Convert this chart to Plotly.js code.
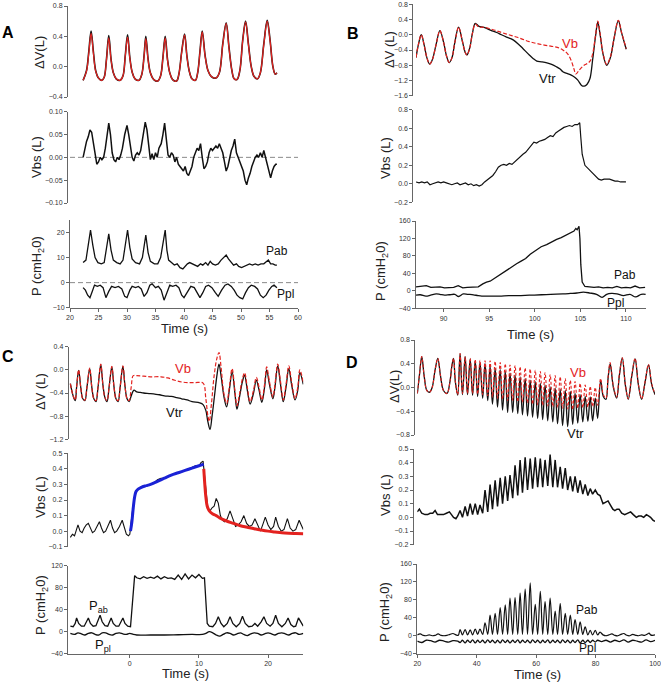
<!DOCTYPE html>
<html><head><meta charset="utf-8">
<script src="https://cdn.plot.ly/plotly-3.0.1.min.js"></script>
<style>html,body{margin:0;padding:0;background:#fff}#chart{width:661px;height:684px}</style>
</head><body><div id="chart"></div>
<script>
// ---------------- Panel A ----------------
const A_t = [22.3,22.9,23.3,23.7,24.1,24.5,25.0,25.6,26.0,26.4,26.8,27.2,27.6,28.1,28.8,29.3,29.7,30.1,30.5,30.9,31.4,32.1,32.6,33.0,33.3,33.7,34.1,34.7,35.4,35.9,36.3,36.7,37.1,37.5,38.0,38.7,39.1,39.6,40.1,40.5,40.9,41.4,42.0,42.4,42.8,43.2,43.7,44.2,44.8,45.6,46.2,46.8,47.4,47.9,48.4,48.8,49.3,49.8,50.3,50.8,51.3,51.8,52.3,52.9,53.4,54.0,54.6,55.1,55.6,56.0,56.3];
const A_vtr = [-0.18,-0.05,0.2,0.47,0.2,-0.05,-0.15,-0.18,-0.14,0.1,0.41,0.1,-0.08,-0.16,-0.18,-0.12,0.15,0.42,0.12,-0.07,-0.16,-0.18,-0.1,0.15,0.40,0.1,-0.08,-0.17,-0.19,-0.12,0.12,0.40,0.1,-0.08,-0.17,-0.19,-0.1,0.2,0.43,0.15,-0.05,-0.16,-0.18,-0.08,0.2,0.47,0.15,-0.05,-0.13,-0.15,-0.08,0.3,0.58,0.25,-0.05,-0.16,-0.17,-0.05,0.35,0.6,0.3,0.0,-0.13,-0.16,-0.08,0.3,0.61,0.35,0.0,-0.1,-0.08];
const A_vb = [-0.18,-0.06,0.18,0.44,0.18,-0.06,-0.15,-0.18,-0.14,0.09,0.38,0.09,-0.08,-0.16,-0.18,-0.12,0.14,0.39,0.11,-0.07,-0.16,-0.18,-0.1,0.14,0.37,0.09,-0.08,-0.17,-0.19,-0.12,0.11,0.38,0.09,-0.08,-0.17,-0.19,-0.1,0.19,0.42,0.14,-0.05,-0.16,-0.18,-0.08,0.19,0.46,0.14,-0.05,-0.13,-0.15,-0.08,0.29,0.57,0.24,-0.05,-0.16,-0.17,-0.05,0.34,0.59,0.29,0.0,-0.13,-0.16,-0.08,0.29,0.6,0.34,0.0,-0.1,-0.08];
const A_vbs_t = [22.3,22.6,22.9,23.2,23.5,23.8,24.1,24.4,24.7,25.0,25.3,25.6,25.9,26.2,26.5,26.8,27.1,27.4,27.7,28.0,28.3,28.6,28.9,29.2,29.6,30.0,30.3,30.6,30.9,31.2,31.5,31.8,32.1,32.4,32.8,33.2,33.5,33.8,34.1,34.4,34.7,35.0,35.3,35.6,36.0,36.3,36.6,36.9,37.2,37.5,37.8,38.1,38.4,38.7,39.0,39.3,39.6,39.9,40.2,40.5,40.8,41.1,41.4,41.7,42.0,42.3,42.6,42.9,43.2,43.5,43.8,44.1,44.4,44.7,45.0,45.3,45.6,45.9,46.2,46.5,46.8,47.1,47.4,47.7,48.0,48.3,48.6,48.9,49.2,49.5,49.8,50.1,50.4,50.7,51.0,51.3,51.6,51.9,52.2,52.5,52.8,53.1,53.4,53.7,54.0,54.3,54.6,54.9,55.2,55.5,55.8,56.1,56.3];
const A_vbs = [0.0,0.02,0.035,0.045,0.06,0.055,0.03,0.005,-0.015,-0.01,0.0,-0.005,0.0,0.02,0.05,0.075,0.05,0.01,-0.005,-0.01,0.0,-0.005,0.005,0.02,0.05,0.07,0.05,0.02,0.0,-0.008,0.005,0.01,0.005,0.015,0.05,0.077,0.06,0.02,-0.005,0.008,-0.005,0.01,0.0,0.02,0.03,0.05,0.075,0.04,0.005,0.0,0.01,0.005,-0.01,0.0,-0.015,-0.02,-0.025,-0.03,-0.02,-0.035,-0.04,-0.03,-0.02,0.0,0.01,0.02,0.015,0.03,0.0,-0.025,-0.02,-0.01,0.01,0.02,0.015,0.02,0.025,0.02,0.03,0.02,0.01,-0.01,-0.03,-0.02,0.0,0.015,0.025,0.04,0.01,0.0,-0.01,-0.02,-0.03,-0.05,-0.06,-0.045,-0.035,-0.02,-0.01,0.0,0.005,0.0,0.01,0.0,0.015,0.0,-0.02,-0.03,-0.045,-0.03,-0.02,-0.015,-0.015];
const A_pab_t = [22.3,22.8,23.2,23.6,24.0,24.4,24.9,25.5,26.0,26.4,26.8,27.2,27.6,28.2,28.8,29.3,29.7,30.1,30.5,30.9,31.5,32.2,32.7,33.0,33.3,33.7,34.1,34.8,35.4,35.9,36.3,36.7,37.0,37.3,37.8,38.3,38.8,39.3,39.8,40.2,40.6,41.0,41.5,41.9,42.4,42.9,43.3,43.8,44.2,44.6,45.0,45.5,46.0,46.5,47.0,47.4,47.8,48.2,48.7,49.2,49.6,50.1,50.5,51.0,51.5,52.0,52.5,53.0,53.5,54.0,54.5,54.8,55.2,55.6,56.0,56.3];
const A_pab = [8,9,15,21,15,10,8,7.5,8,13,19.5,13,9,8,7.5,9,15,21,14,9.5,8,7.5,10,15,19,12,8.5,7.5,7.5,10,16,21,13,9,8,7,7.5,6,5.5,6.5,7.5,8,7.5,7,6.5,7.5,7,8,7,8.5,7.5,7,7.5,9,10,11,9.5,8.5,7,7.5,6.5,6,6.5,7,7.5,7,7.5,7,7.5,7.5,8.5,9,7.5,7.5,7,7];
const A_ppl_t = [22.3,22.7,23.1,23.5,23.9,24.3,24.8,25.3,25.8,26.3,26.8,27.3,27.9,28.5,29.1,29.6,30.0,30.5,30.9,31.5,32.0,32.5,33.0,33.5,34.0,34.4,35.0,35.5,36.0,36.5,37.0,37.5,38.0,38.6,39.1,39.6,40.0,40.6,41.2,41.8,42.3,42.8,43.3,43.8,44.3,44.9,45.5,46.0,46.6,47.2,47.7,48.3,48.8,49.3,49.8,50.3,50.8,51.3,51.8,52.4,52.9,53.4,53.9,54.4,54.9,55.4,55.8,56.3];
const A_ppl = [-2,-3,-5,-6,-3.5,-1,-1.5,-1,-2,-6,-3.5,-1.5,-2,-1.5,-2.5,-5.5,-6,-3,-1.5,-2,-1.5,-2.5,-5.5,-4,-1,-0.5,-2,-1.5,-3,-7,-4,-1,-1.5,-1,-2,-5,-6,-4,-1.5,-2,-4,-6,-4,-1.5,-1,-2,-4,-5.5,-3,-1,-0.5,-1.5,-3,-5,-6,-6.5,-4,-2,-1,-1.5,-2.5,-5,-6,-5,-3,-1.5,-1,-2];

// ---------------- Panel B ----------------
const B_vtr_t = [86.97,87.24,87.55,87.85,88.16,88.47,88.77,89.18,89.59,90.0,90.31,90.61,90.92,91.23,91.64,92.04,92.35,92.56,92.86,93.17,93.47,93.88,94.29,94.7,95.31,95.83,96.34,96.9,97.36,97.67,98.18,98.69,99.4,99.81,100.22,100.73,101.33,101.85,102.37,102.78,103.08,103.59,104.0,104.41,104.72,105.13,105.43,105.74,106.05,106.35,106.66,106.91,107.17,107.48,107.89,108.29,108.7,109.16,109.52,110.03];
const B_vtr = [-0.6,-0.25,0.0,-0.25,-0.6,-0.77,-0.65,-0.25,0.11,-0.2,-0.55,-0.73,-0.6,-0.2,0.2,-0.15,-0.45,-0.53,-0.35,0.05,0.3,0.22,0.2,0.17,0.1,0.06,0.0,-0.06,-0.1,-0.14,-0.24,-0.36,-0.53,-0.62,-0.69,-0.71,-0.74,-0.78,-0.84,-0.9,-0.97,-1.02,-1.06,-1.12,-1.19,-1.33,-1.35,-1.3,-1.15,-0.65,-0.05,0.33,0.0,-0.5,-0.8,-0.6,-0.1,0.37,0.05,-0.38];
const B_vb_t = [86.97,87.24,87.55,87.85,88.16,88.47,88.77,89.18,89.59,90.0,90.31,90.61,90.92,91.23,91.64,92.04,92.35,92.56,92.86,93.17,93.47,93.88,94.29,94.91,95.62,96.34,97.15,97.97,98.69,99.4,100.22,101.04,101.75,102.47,103.08,103.6,104.0,104.3,104.5,104.9,105.4,105.8,106.1,106.35,106.66,106.91,107.17,107.48,107.89,108.29,108.7,109.16,109.52,110.03];
const B_vb = [-0.6,-0.25,0.0,-0.25,-0.6,-0.77,-0.65,-0.25,0.11,-0.2,-0.55,-0.73,-0.6,-0.2,0.2,-0.15,-0.45,-0.53,-0.35,0.05,0.28,0.2,0.2,0.17,0.12,0.06,0.0,-0.06,-0.12,-0.18,-0.23,-0.27,-0.3,-0.33,-0.4,-0.5,-0.68,-0.9,-1.03,-0.92,-0.8,-0.75,-0.68,-0.5,-0.02,0.36,0.02,-0.48,-0.78,-0.58,-0.08,0.38,0.06,-0.36];
const B_vbs_t = [86.97,87.3,87.6,87.9,88.2,88.5,88.8,89.1,89.4,89.7,90.0,90.3,90.6,90.9,91.2,91.5,91.8,92.1,92.4,92.7,93.0,93.3,93.6,93.9,94.2,94.5,94.8,95.1,95.4,95.7,96.0,96.3,96.6,96.9,97.2,97.5,97.8,98.1,98.4,98.7,99.0,99.3,99.6,99.9,100.2,100.5,100.8,101.1,101.4,101.7,102.0,102.3,102.6,102.9,103.2,103.5,103.8,104.1,104.4,104.7,104.93,105.05,105.2,105.5,105.8,106.1,106.4,106.7,107.0,107.3,107.6,107.9,108.2,108.5,108.8,109.1,109.4,109.7,110.0];
const B_vbs = [0.02,0.01,0.02,0.01,0.02,-0.01,0.0,0.01,0.02,0.01,0.02,0.01,0.0,-0.01,0.0,0.01,-0.01,0.0,0.01,-0.01,0.0,-0.02,-0.01,-0.025,-0.01,0.02,0.045,0.06,0.09,0.13,0.18,0.2,0.21,0.2,0.22,0.21,0.24,0.26,0.29,0.32,0.34,0.38,0.41,0.45,0.44,0.46,0.47,0.48,0.5,0.52,0.51,0.55,0.57,0.59,0.61,0.62,0.63,0.62,0.64,0.64,0.66,0.5,0.32,0.2,0.17,0.15,0.12,0.08,0.05,0.04,0.05,0.05,0.05,0.04,0.03,0.03,0.02,0.02,0.02];
const B_pab_t = [86.97,87.5,88.1,88.6,89.1,89.6,90.1,90.6,91.1,91.6,92.1,92.6,93.1,93.5,93.8,94.3,94.7,95.1,95.6,96.0,96.5,97.0,97.5,98.0,98.5,99.0,99.5,100.2,100.7,101.3,101.8,102.4,102.9,103.5,103.8,104.1,104.3,104.5,104.65,104.85,104.95,105.05,105.2,105.5,106.0,106.5,107.0,107.5,108.0,108.5,109.0,109.5,110.0,110.5,111.0,111.5,112.1];
const B_pab = [9,11,12,8,8,9,7,8,8,12,7,8,8,9,9,16,20,22,29,35,43,49,55,62,68,74,84,95,101,106,112,118,122,128,131,134,137,143,140,148,120,60,20,10,9,8,9,7,8,7,10,7,8,7,11,7,8];
const B_ppl_t = [86.97,87.44,88.06,88.57,89.18,89.59,90.1,90.61,91.23,91.64,92.15,92.66,93.27,93.78,94.19,95.11,96.13,97.15,98.18,99.4,100.73,101.75,103.08,103.9,104.62,105.33,106.05,106.77,107.38,107.89,108.4,109.01,109.73,110.44,111.06,111.67,112.16];
const B_ppl = [-10,-9,-12,-10,-7,-8,-10,-9,-8,-13,-7,-8,-9,-11,-12,-12,-12,-11,-11,-10,-9,-8,-7,-6,-5,-3,-5,-8,-15,-8,-6,-7,-11,-8,-14,-8,-8];

// ---------------- Panel C ----------------
const C_vtr_t = [-8.6,-8.2,-7.9,-7.7,-7.4,-7.1,-6.8,-6.5,-6.2,-5.8,-5.5,-5.2,-4.9,-4.6,-4.2,-3.9,-3.6,-3.3,-3.0,-2.6,-2.3,-2.0,-1.7,-1.4,-1.0,-0.7,-0.4,-0.1,0.2,0.6,1.0,1.5,2.0,3.0,4.3,5.0,6.0,6.8,7.5,8.3,9.0,10.1,10.6,11.0,11.3,11.6,11.9,12.3,12.6,12.9,13.2,13.6,14.0,14.4,14.8,15.2,15.5,15.9,16.3,16.6,17.0,17.4,17.9,18.3,18.7,19.1,19.5,19.8,20.2,20.7,21.0,21.4,21.8,22.2,22.6,23.0,23.4,23.9,24.3,24.6,25.1];
const C_vtr = [-0.24,-0.45,-0.53,-0.3,-0.01,-0.3,-0.5,-0.53,-0.3,0.02,-0.3,-0.5,-0.55,-0.3,0.09,-0.25,-0.48,-0.55,-0.3,0.05,-0.28,-0.5,-0.55,-0.3,0.06,-0.28,-0.5,-0.55,-0.45,-0.35,-0.38,-0.39,-0.4,-0.41,-0.43,-0.45,-0.46,-0.48,-0.5,-0.52,-0.55,-0.57,-0.6,-0.7,-0.9,-1.03,-0.8,-0.4,-0.1,0.1,-0.1,-0.45,-0.64,-0.35,-0.03,-0.4,-0.68,-0.45,-0.2,-0.09,-0.35,-0.59,-0.4,-0.18,-0.35,-0.56,-0.3,0.0,-0.25,-0.5,-0.3,0.07,-0.25,-0.55,-0.3,0.02,-0.25,-0.52,-0.35,-0.05,-0.25];
const C_vb_t = [-8.6,-8.2,-7.9,-7.7,-7.4,-7.1,-6.8,-6.5,-6.2,-5.8,-5.5,-5.2,-4.9,-4.6,-4.2,-3.9,-3.6,-3.3,-3.0,-2.6,-2.3,-2.0,-1.7,-1.4,-1.0,-0.7,-0.4,-0.1,0.2,0.5,1.0,2.0,3.0,4.5,5.5,6.5,7.5,8.5,9.5,10.6,11.0,11.3,11.5,11.8,12.2,12.6,12.9,13.2,13.6,14.0,14.4,14.8,15.2,15.5,15.9,16.3,16.6,17.0,17.4,17.9,18.3,18.7,19.1,19.5,19.8,20.2,20.7,21.0,21.4,21.8,22.2,22.6,23.0,23.4,23.9,24.3,24.6,25.1];
const C_vb = [-0.24,-0.45,-0.52,-0.3,0.0,-0.3,-0.5,-0.52,-0.3,0.03,-0.3,-0.5,-0.53,-0.3,0.1,-0.25,-0.48,-0.53,-0.3,0.06,-0.28,-0.5,-0.53,-0.3,0.07,-0.28,-0.5,-0.53,-0.3,-0.1,-0.1,-0.11,-0.12,-0.12,-0.14,-0.18,-0.21,-0.22,-0.22,-0.23,-0.5,-0.8,-0.89,-0.6,-0.1,0.2,0.3,0.05,-0.4,-0.58,-0.3,0.02,-0.35,-0.62,-0.4,-0.15,-0.05,-0.3,-0.55,-0.35,-0.13,-0.3,-0.52,-0.25,0.05,-0.2,-0.47,-0.25,0.1,-0.2,-0.52,-0.25,0.07,-0.2,-0.5,-0.3,0.0,-0.22];
const C_vbs_t = [-8.6,-8.3,-8.0,-7.7,-7.5,-7.2,-6.9,-6.6,-6.3,-6.0,-5.7,-5.4,-5.1,-4.8,-4.4,-4.1,-3.8,-3.5,-3.2,-2.8,-2.5,-2.2,-1.9,-1.5,-1.1,-0.8,-0.5,-0.2,0.0,0.3,0.6,0.9,1.5,2.0,2.5,3.0,3.5,4.0,4.5,5.0,5.5,6.0,6.5,7.0,7.5,8.0,8.5,9.0,9.5,10.0,10.3,10.6,10.9,11.1,11.3,11.6,11.9,12.2,12.5,12.8,13.1,13.4,13.7,14.1,14.5,14.9,15.3,15.7,16.1,16.5,16.9,17.3,17.7,18.1,18.5,18.9,19.3,19.6,20.0,20.4,20.8,21.1,21.5,21.9,22.3,22.8,23.2,23.6,24.0,24.5,24.8,25.1];
const C_vbs = [-0.04,-0.02,-0.03,0.02,0.04,0.0,-0.01,0.02,0.04,0.05,0.02,-0.01,0.0,0.03,0.06,0.02,-0.01,0.0,0.03,0.07,0.02,-0.01,0.0,0.03,0.07,0.02,-0.02,-0.03,-0.02,0.1,0.2,0.26,0.28,0.29,0.29,0.3,0.31,0.33,0.34,0.34,0.35,0.36,0.37,0.37,0.38,0.39,0.4,0.41,0.42,0.42,0.44,0.45,0.3,0.2,0.14,0.13,0.15,0.16,0.21,0.18,0.1,0.07,0.06,0.08,0.13,0.08,0.03,0.04,0.06,0.1,0.05,0.03,0.04,0.08,0.04,0.0,0.05,0.09,0.04,0.01,0.03,0.09,0.03,0.0,0.01,0.08,0.02,0.0,0.01,0.07,0.04,0.01];
const C_fit1_t = [0.1,0.3,0.5,0.7,0.9,1.2,1.6,2.2,3.0,4.0,5.0,6.0,7.0,8.0,9.0,10.0,10.7];
const C_fit1 = [0.0,0.06,0.15,0.22,0.255,0.27,0.28,0.29,0.3,0.32,0.34,0.36,0.375,0.39,0.405,0.42,0.43];
const C_fit2_t = [10.7,10.85,11.0,11.2,11.5,12.0,12.5,13.0,14.0,15.0,16.0,17.0,18.0,19.0,20.0,21.0,22.0,23.0,24.0,25.1];
const C_fit2 = [0.4,0.3,0.22,0.16,0.13,0.11,0.1,0.085,0.065,0.05,0.035,0.025,0.015,0.007,0.0,-0.005,-0.01,-0.013,-0.015,-0.017];
const C_pab_t = [-8.6,-8.2,-7.9,-7.7,-7.4,-7.0,-6.6,-6.3,-6.0,-5.7,-5.3,-4.9,-4.6,-4.3,-4.0,-3.6,-3.2,-3.0,-2.7,-2.4,-2.0,-1.6,-1.3,-1.0,-0.7,-0.3,0.1,0.3,0.5,0.7,1.0,1.5,2.0,2.5,3.0,3.5,4.0,4.5,5.0,5.5,6.0,6.5,7.0,7.5,8.0,8.5,9.0,9.5,10.0,10.5,10.8,11.0,11.2,11.5,12.0,12.4,12.8,13.2,13.6,14.1,14.5,14.9,15.4,15.9,16.3,16.7,17.2,17.7,18.1,18.5,19.0,19.4,19.8,20.3,20.7,21.1,21.5,22.0,22.5,22.9,23.3,23.7,24.0,24.4,24.8,25.1];
const C_pab = [10,9,15,25,15,10,10,18,25,15,10,11,20,30,18,11,10,16,25,15,10,10,17,25,15,10,9,40,85,102,98,96,100,97,99,97,101,96,100,97,98,95,103,95,105,96,103,98,104,97,98,60,15,10,9,15,27,15,9,15,27,15,9,15,28,15,9,10,15,10,18,27,15,10,15,30,15,9,15,25,13,9,10,25,15,10];
const C_ppl_t = [-8.6,-8.0,-7.5,-7.0,-6.5,-6.0,-5.5,-5.0,-4.5,-4.0,-3.5,-3.0,-2.5,-2.0,-1.5,-1.0,-0.5,0.0,0.5,1.0,3.0,5.0,7.0,9.0,10.5,11.0,11.5,12.0,12.5,13.0,13.5,14.0,14.5,15.0,15.5,16.0,16.5,17.0,17.5,18.0,18.5,19.0,19.5,20.0,20.5,21.0,21.5,22.0,22.5,23.0,23.5,24.0,24.5,25.1];
const C_ppl = [-3,-5,-2,-4,-6,-3,-2,-5,-6,-2,-2,-5,-6,-3,-2,-4,-5,-3,-5,-6,-6,-6,-5.5,-5,-5,-3,0,-2,-6,-8,-5,-2,-3,-6,-4,-2,-5,-7,-4,-2,-3,-6,-4,-2,-4,-6,-3,-2,-4,-6,-3,-2,-5,-3];

// ---------------- Panel D ----------------
const D_v_t = [20.0,20.7,21.5,22.3,23.2,24.1,25.0,26.0,26.9,27.8,28.8,30.0,31.0,31.6,32.2,32.8,33.6,34.4,35.2,36.1,36.9,37.8,38.6,39.5,40.3,41.1,42.0,42.8,43.7,44.5,45.3,46.2,47.0,47.9,48.7,49.6,50.4,51.2,52.1,52.9,53.8,54.6,55.4,56.3,57.1,58.0,58.8,59.7,60.5,61.4,62.2,63.0,63.9,64.7,65.6,66.4,67.2,68.1,68.9,69.8,70.6,71.5,72.3,73.1,74.0,74.8,75.7,76.5,77.4,78.2,79.0,79.9,80.7,81.7,82.6,83.5,84.2,84.9,86.0,87.1,88.0,89.0,90.0,91.0,92.2,93.3,94.4,95.5,96.7,97.8,98.9,100.0];
const D_vtr = [-0.1,0.2,0.52,0.2,-0.05,-0.08,0.0,0.3,0.49,0.2,-0.05,-0.1,0.1,0.35,0.49,0.1,-0.13,0.57,-0.12,0.52,-0.12,0.48,-0.13,0.45,-0.15,0.42,-0.18,0.4,-0.22,0.36,-0.28,0.32,-0.33,0.3,-0.38,0.27,-0.42,0.24,-0.42,0.21,-0.44,0.18,-0.46,0.15,-0.48,0.12,-0.5,0.1,-0.52,0.07,-0.54,0.04,-0.56,0.01,-0.58,-0.01,-0.61,-0.03,-0.64,-0.05,-0.66,-0.07,-0.62,-0.1,-0.6,-0.12,-0.58,-0.15,-0.57,-0.16,-0.56,-0.18,-0.52,0.12,-0.15,-0.2,0.15,0.4,0.0,-0.18,0.2,0.5,0.05,-0.2,0.2,0.48,0.05,-0.2,0.1,0.38,0.05,-0.12];
const D_vb = [-0.1,0.2,0.52,0.2,-0.05,-0.08,0.0,0.3,0.49,0.2,-0.05,-0.1,0.1,0.35,0.49,0.1,-0.12,0.57,-0.1,0.52,-0.1,0.49,-0.1,0.47,-0.11,0.46,-0.12,0.45,-0.14,0.45,-0.16,0.44,-0.18,0.42,-0.2,0.4,-0.22,0.38,-0.22,0.37,-0.24,0.35,-0.25,0.33,-0.26,0.31,-0.28,0.29,-0.29,0.27,-0.3,0.25,-0.31,0.22,-0.32,0.2,-0.34,0.18,-0.35,0.15,-0.36,0.12,-0.37,0.1,-0.35,0.07,-0.34,0.04,-0.33,0.02,-0.32,0.0,-0.3,0.15,-0.12,-0.18,0.17,0.42,0.02,-0.16,0.22,0.5,0.06,-0.19,0.21,0.49,0.06,-0.19,0.11,0.39,0.06,-0.11];
const D_vbs_t = [20.0,20.7,21.5,22.6,23.5,24.3,25.2,26.0,26.8,27.8,28.8,29.8,30.8,31.5,32.2,33.0,33.6,34.4,35.2,36.1,36.9,37.8,38.6,39.5,40.3,41.1,42.0,42.8,43.7,44.5,45.3,46.2,47.0,47.9,48.7,49.6,50.4,51.2,52.1,52.9,53.8,54.6,55.4,56.3,57.1,58.0,58.8,59.7,60.5,61.4,62.2,63.0,63.9,64.7,65.6,66.4,67.2,68.1,68.9,69.8,70.6,71.5,72.3,73.1,74.0,74.8,75.7,76.5,77.4,78.2,79.0,79.9,80.7,81.5,82.5,83.3,84.2,85.0,85.8,86.5,87.2,87.9,88.8,89.8,90.8,91.8,92.7,93.7,94.5,95.4,96.2,97.1,97.8,98.5,99.3,100.0];
const D_vbs = [0.04,0.06,0.03,0.02,0.02,0.03,0.03,0.05,0.02,0.02,0.02,0.03,0.04,0.02,0.0,-0.01,0.01,0.05,0.0,0.08,0.01,0.1,0.02,0.1,0.02,0.09,0.03,0.2,0.04,0.24,0.06,0.27,0.08,0.29,0.1,0.3,0.12,0.31,0.14,0.38,0.16,0.42,0.18,0.44,0.2,0.43,0.21,0.44,0.22,0.43,0.22,0.42,0.23,0.46,0.22,0.42,0.22,0.37,0.21,0.36,0.2,0.3,0.19,0.3,0.18,0.27,0.17,0.24,0.16,0.21,0.17,0.2,0.17,0.16,0.1,0.11,0.12,0.09,0.06,0.05,0.06,0.06,0.03,0.02,0.03,0.04,0.02,0.0,0.01,0.01,0.0,0.02,0.01,0.0,-0.02,-0.03];
const D_pab_t = [20.0,21.0,22.0,23.0,24.0,25.0,26.0,27.0,28.0,29.0,30.0,31.0,32.0,33.0,33.8,34.4,35.2,36.1,36.9,37.8,38.6,39.5,40.3,41.1,42.0,42.8,43.7,44.5,45.3,46.2,47.0,47.9,48.7,49.6,50.4,51.2,52.1,52.9,53.8,54.6,55.4,56.3,57.1,58.0,58.8,59.7,60.5,61.4,62.2,63.0,63.9,64.7,65.6,66.4,67.2,68.1,68.9,69.8,70.6,71.5,72.3,73.1,74.0,74.8,75.7,76.5,77.4,78.2,79.0,79.9,80.7,81.5,82.5,83.5,84.5,85.5,86.5,87.5,88.5,89.5,90.5,91.5,92.5,93.5,94.5,95.5,96.5,97.5,98.0,98.5,99.3,100.0];
const D_pab = [2,4,1,0,2,0,1,4,1,0,1,3,5,2,1,14,2,14,2,13,2,15,3,15,3,29,3,46,3,50,3,63,3,69,3,84,3,85,3,95,3,104,3,118,3,70,3,99,3,76,3,84,3,55,3,72,3,50,3,46,3,36,3,31,3,20,2,12,2,12,2,8,2,0,2,4,1,0,3,5,1,0,3,1,0,2,1,4,6,2,1,2];
const D_ppl_t = [20.0,21.5,23.0,24.5,26.0,27.5,29.0,30.5,32.0,33.6,34.4,35.2,36.1,36.9,37.8,38.6,39.5,40.3,41.1,42.0,42.8,43.7,44.5,45.3,46.2,47.0,47.9,48.7,49.6,50.4,51.2,52.1,52.9,53.8,54.6,55.4,56.3,57.1,58.0,58.8,59.7,60.5,61.4,62.2,63.0,63.9,64.7,65.6,66.4,67.2,68.1,68.9,69.8,70.6,71.5,72.3,73.1,74.0,74.8,75.7,76.5,77.4,78.2,79.0,79.9,80.7,82.0,83.5,85.0,86.5,88.0,89.5,91.0,92.5,94.0,95.5,97.0,98.5,100.0];
const D_ppl = [-12,-15,-10,-11,-14,-10,-12,-14,-11,-12,-15,-10,-16,-10,-15,-9,-16,-10,-15,-10,-16,-9,-15,-10,-16,-10,-16,-9,-15,-10,-16,-10,-15,-9,-16,-10,-15,-10,-16,-9,-15,-10,-16,-10,-15,-9,-16,-10,-15,-10,-16,-9,-15,-10,-16,-10,-15,-9,-16,-10,-15,-10,-15,-10,-14,-10,-13,-10,-14,-10,-13,-9,-14,-10,-12,-14,-9,-13,-10];

// ---------------- Axes (range / ticks) ----------------
const A_range = [20,60], B_range = [86.97,112.2], C_range = [-8.9,25.1], D_range = [20,100];

const W = 661, H = 684;
const BLACK = '#111', RED = '#e3221f', BLUE = '#1a22d6';
const FONT = 'Liberation Sans, Arial, sans-serif';

function ax(i){return i===1?'':String(i);}
function line(x,y,i,color,width,dash,shape){
  return {x:x,y:y,xaxis:'x'+ax(i),yaxis:'y'+ax(i),mode:'lines',hoverinfo:'skip',showlegend:false,
    line:{color:color,width:width,dash:dash||'solid',shape:shape||'linear',smoothing:1}};
}
const traces = [
  line(A_t,A_vtr,1,BLACK,1.6,null,'spline'),
  line(A_t,A_vb,1,RED,1.2,null,'spline'),
  line(A_vbs_t,A_vbs,2,BLACK,1.5),
  line(A_pab_t,A_pab,3,BLACK,1.3),
  line(A_ppl_t,A_ppl,3,BLACK,1.3),

  line(B_vtr_t,B_vtr,4,BLACK,1.3,null,'spline'),
  line(B_vb_t,B_vb,4,RED,1.2,'4px,2px','spline'),
  line(B_vbs_t,B_vbs,5,BLACK,1.2),
  line(B_pab_t,B_pab,6,BLACK,1.3),
  line(B_ppl_t,B_ppl,6,BLACK,1.3,null,'spline'),

  line(C_vtr_t,C_vtr,7,BLACK,1.3,null,'spline'),
  line(C_vb_t,C_vb,7,RED,1.2,'4px,2px','spline'),
  line(C_vbs_t,C_vbs,8,BLACK,1.1),
  line(C_fit1_t,C_fit1,8,BLUE,3,null,'spline'),
  line(C_fit2_t,C_fit2,8,RED,3,null,'spline'),
  line(C_pab_t,C_pab,9,BLACK,1.3),
  line(C_ppl_t,C_ppl,9,BLACK,1.3,null,'spline'),

  line(D_v_t,D_vtr,10,BLACK,1.3,null,'spline'),
  line(D_v_t,D_vb,10,RED,1.1,'3px,2px','spline'),
  line(D_vbs_t,D_vbs,11,BLACK,1.5),
  line(D_pab_t,D_pab,12,BLACK,1.2,null,'spline'),
  line(D_ppl_t,D_ppl,12,BLACK,1.3,null,'spline')
];

// subplot geometry in pixels
const subplots = [
  {x:[70,298],   y:[6,97],      r:[-0.4,0.8], dt:0.4, f:'.1f', pos:67,  xr:A_range, xdt:5,  bottom:false},
  {x:[70,298],   y:[111.7,203], r:[-0.1,0.1], dt:0.05,f:'.2f', pos:67,  xr:A_range, xdt:5,  bottom:false},
  {x:[70,298],   y:[220,307.7], r:[-10,25],   dt:10,  f:'d',   pos:69,  xr:A_range, xdt:5,  bottom:true},
  {x:[416,646],  y:[4.3,95.7],  r:[-1.6,0.8], dt:0.4, f:'.1f', pos:412.3,xr:B_range, xdt:5, bottom:false},
  {x:[416,646],  y:[109.8,202.3],r:[-0.2,0.8],dt:0.2, f:'.1f', pos:412.3,xr:B_range, xdt:5, bottom:false},
  {x:[416,646],  y:[221,308.3], r:[-40,160],  dt:40,  f:'d',   pos:416, xr:B_range, xdt:5,  bottom:true},
  {x:[68.3,303.3],y:[346.7,439.3],r:[-1.2,0.4],dt:0.4,f:'.1f', pos:67.7,xr:C_range, xdt:10, bottom:false},
  {x:[68.3,303.3],y:[453.3,546.7],r:[-0.1,0.5],dt:0.1,f:'.1f', pos:66.7,xr:C_range, xdt:10, bottom:false},
  {x:[68.3,303.3],y:[565.7,653.7],r:[-40,120],dt:40,  f:'d',   pos:68.3,xr:C_range, xdt:10, bottom:true},
  {x:[417.3,655],y:[340,435],   r:[-0.8,0.8], dt:0.4, f:'.1f', pos:414.3,xr:D_range, xdt:20, bottom:false},
  {x:[417.3,655],y:[449,544.7], r:[-0.2,0.5], dt:0.1, f:'.1f', pos:412.7,xr:D_range, xdt:20, bottom:false},
  {x:[417.3,655],y:[564,653.7], r:[-40,160],  dt:40,  f:'d',   pos:417.3,xr:D_range, xdt:20, bottom:true}
];

const layout = {
  width:W, height:H, margin:{l:0,r:0,t:0,b:0}, paper_bgcolor:'#fff', plot_bgcolor:'rgba(0,0,0,0)',
  font:{family:FONT, color:'#222'}, showlegend:false, annotations:[], shapes:[]
};
const tickfont = {family:FONT, size:7, color:'#333'};
subplots.forEach((s,k)=>{
  const i=k+1;
  layout['xaxis'+ax(i)] = {
    domain:[s.x[0]/W, s.x[1]/W], range:s.xr, anchor:'y'+ax(i), visible:s.bottom,
    showline:true, linecolor:'#666', linewidth:1, ticks:'outside', ticklen:3, tickwidth:1, tickcolor:'#666',
    dtick:s.xdt, tick0:0, tickfont:tickfont, showgrid:false, zeroline:false, fixedrange:true
  };
  const ya = {
    domain:[1-s.y[1]/H, 1-s.y[0]/H], range:s.r, dtick:s.dt, tick0:0, tickformat:s.f,
    showline:true, linecolor:'#666', linewidth:1, ticks:'outside', ticklen:3, tickwidth:1, tickcolor:'#666',
    tickfont:tickfont, showgrid:false, zeroline:false, fixedrange:true
  };
  if (s.bottom && Math.abs(s.pos - s.x[0])<0.5) { ya.anchor = 'x'+ax(i); }
  else { ya.anchor='free'; ya.position = s.pos/W; }
  layout['yaxis'+ax(i)] = ya;
});

// dashed zero references in panel A
[2,3].forEach(i=>{
  layout.shapes.push({type:'line', xref:'x'+ax(i), yref:'y'+ax(i), x0:A_range[0], x1:A_range[1], y0:0, y1:0,
    line:{color:'#8a8a8a', width:1, dash:'5px,3px'}, layer:'below'});
});

function P(px,py){return {x:px/W, y:1-py/H};}
function note(text,px,py,opt){
  const p=P(px,py);
  layout.annotations.push(Object.assign({text:text, x:p.x, y:p.y, xref:'paper', yref:'paper', showarrow:false,
    xanchor:'center', yanchor:'middle', font:{family:FONT, size:12, color:'#111'}}, opt||{}));
}
const rot = {textangle:-90, font:{family:FONT,size:13,color:'#222'}};
const tfont = {font:{family:FONT,size:13,color:'#222'}};
// panel letters
note('<b>A</b>',8,32,{font:{family:FONT,size:16,color:'#000'}});
note('<b>B</b>',353,33,{font:{family:FONT,size:16,color:'#000'}});
note('<b>C</b>',8,356,{font:{family:FONT,size:16,color:'#000'}});
note('<b>D</b>',352,362,{font:{family:FONT,size:16,color:'#000'}});
// axis titles
note('ΔV(L)',40,53,rot);
note('Vbs (L)',37,157,rot);
note('P (cmH<sub>2</sub>0)',38,266,rot);
note('Time (s)',184,328,tfont);
note('ΔV (L)',390,50,rot);
note('Vbs (L)',385,158,rot);
note('P (cmH<sub>2</sub>0)',382,271,rot);
note('Time (s)',530,335,tfont);
note('ΔV (L)',40,392,rot);
note('Vbs (L)',40,497,rot);
note('P (cmH<sub>2</sub>0)',41,605,rot);
note('Time (s)',185,673,tfont);
note('ΔV(L)',394,387,rot);
note('Vbs (L)',385,495,rot);
note('P (cmH<sub>2</sub>0)',385,612,rot);
note('Time (s)',537,674,tfont);
// trace labels
note('Pab',277,251);
note('Ppl',285,294);
note('Vb',570,43,{font:{family:FONT,size:13,color:RED}});
note('Vtr',547,78,{font:{family:FONT,size:13,color:'#111'}});
note('Pab',625,275);
note('Ppl',615,303);
note('Vb',183,368,{font:{family:FONT,size:13,color:RED}});
note('Vtr',175,412,{font:{family:FONT,size:13,color:'#111'}});
note('P<sub>ab</sub>',98,606,{font:{family:FONT,size:13,color:'#111'}});
note('P<sub>pl</sub>',103,645,{font:{family:FONT,size:13,color:'#111'}});
note('Vb',578,373,{font:{family:FONT,size:13,color:RED}});
note('Vtr',575,433,{font:{family:FONT,size:13,color:'#111'}});
note('Pab',587,610);
note('Ppl',587,648);

Plotly.newPlot('chart', traces, layout, {staticPlot:true, displayModeBar:false});
</script>
</body></html>
